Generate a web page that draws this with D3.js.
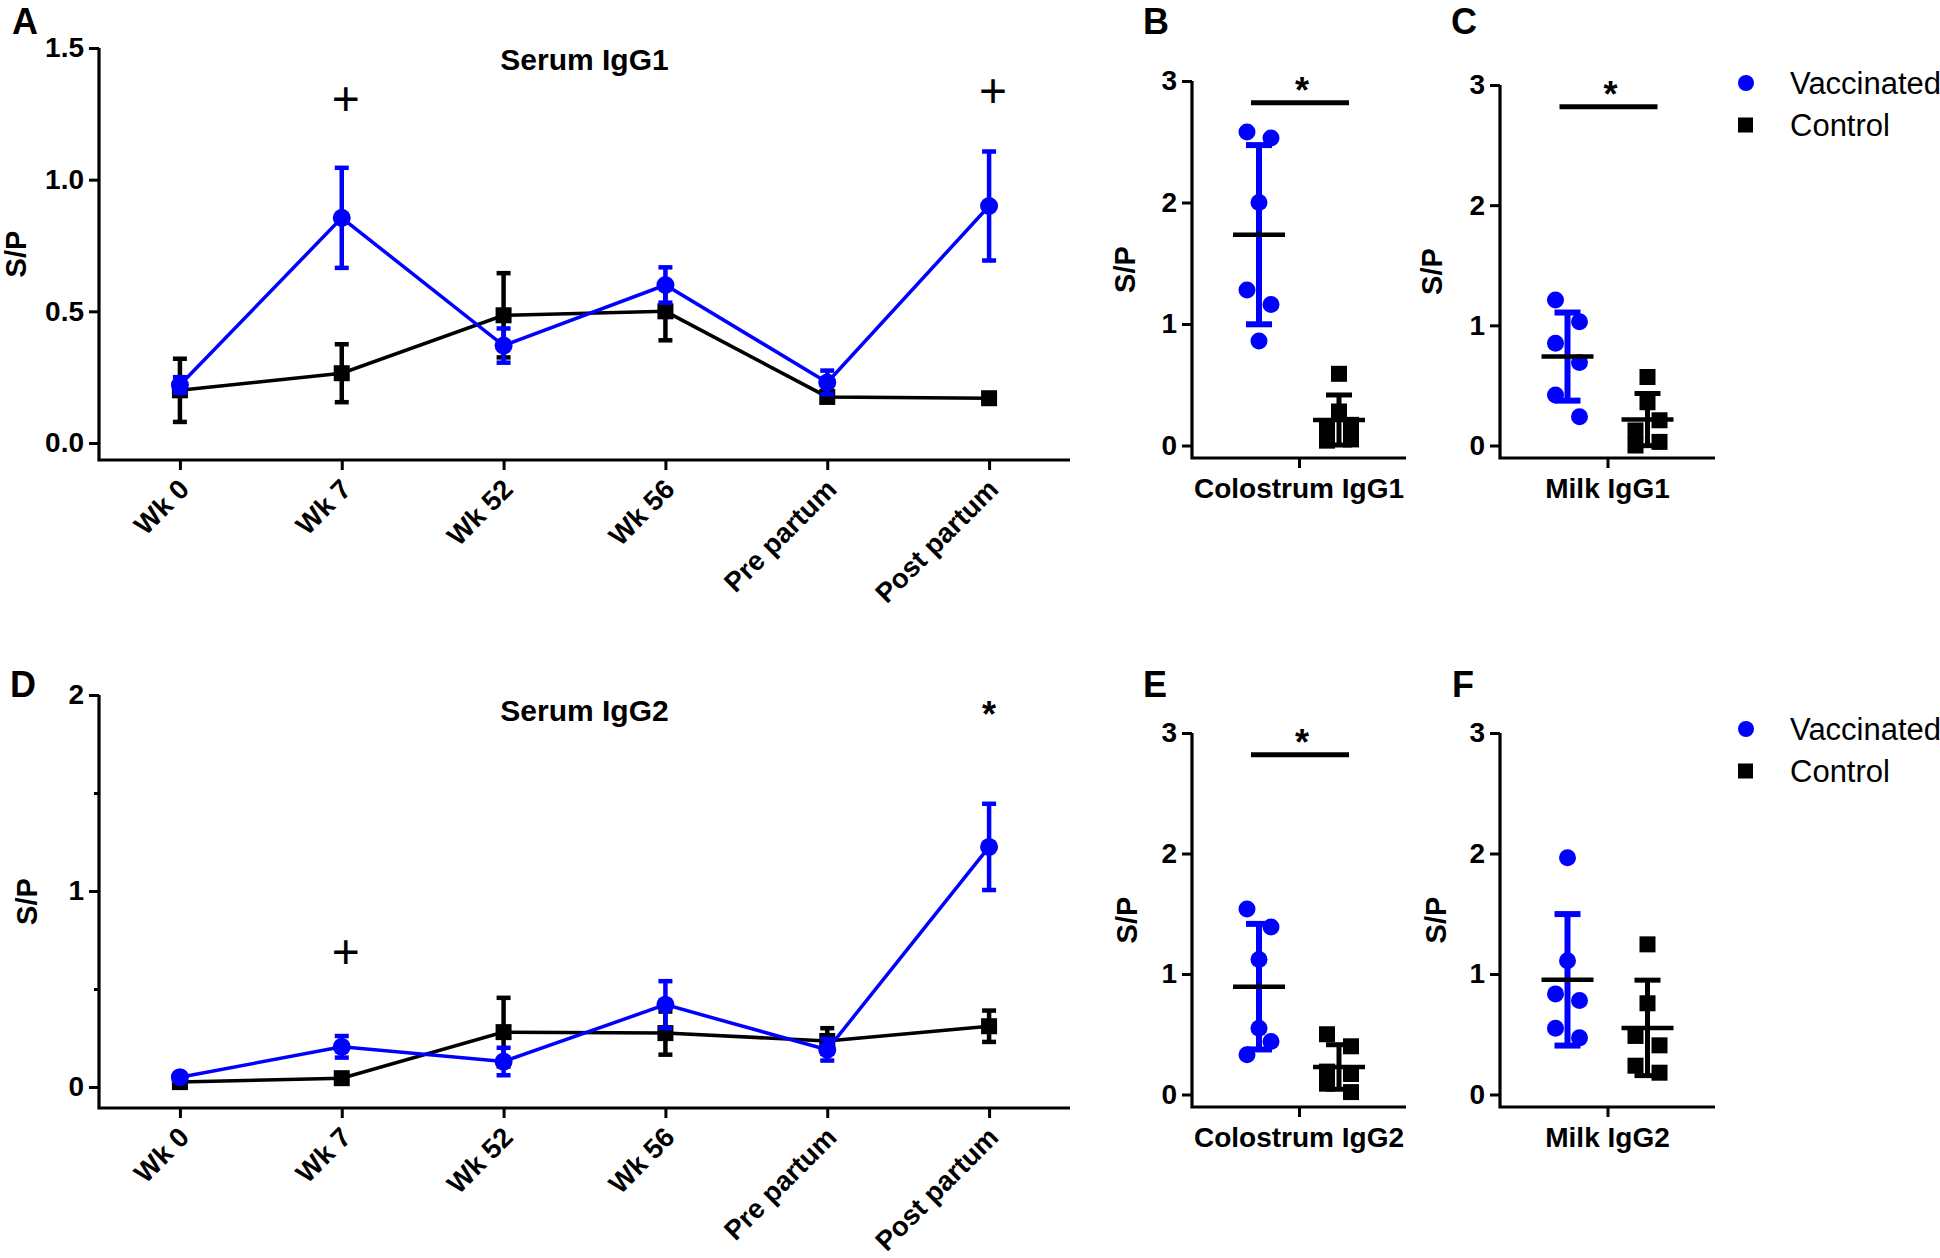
<!DOCTYPE html>
<html><head><meta charset="utf-8">
<script src="https://cdn.jsdelivr.net/npm/d3@7"></script>
<style>
body{margin:0;background:#fff;}
svg text{font-family:"Liberation Sans", Arial, sans-serif;}
</style></head><body>
<svg id="chart" width="1940" height="1258"></svg>
<script>
// ---------- DATA ----------
const timepoints = ["Wk 0","Wk 7","Wk 52","Wk 56","Pre partum","Post partum"];
const groups = ["Vaccinated","Control"];

// Serum IgG1 (mean ± SEM)
const serumIgG1Vacc    = [0.22, 0.855, 0.37, 0.60, 0.23, 0.90];
const serumIgG1VaccErr = [0.03, 0.19, 0.065, 0.067, 0.045, 0.207];
const serumIgG1Ctrl    = [0.20, 0.265, 0.485, 0.50, 0.175, 0.17];
const serumIgG1CtrlErr = [0.12, 0.11, 0.16, 0.11, 0.012, 0.01];
const serumIgG1Marks   = [{cat:"Wk 7", label:"+", value:1.31}, {cat:"Post partum", label:"+", value:1.34}];

// Serum IgG2 (mean ± SEM)
const serumIgG2Vacc    = [0.05, 0.205, 0.13, 0.42, 0.19, 1.225];
const serumIgG2VaccErr = [0.01, 0.055, 0.07, 0.12, 0.055, 0.22];
const serumIgG2Ctrl    = [0.025, 0.045, 0.28, 0.275, 0.235, 0.31];
const serumIgG2CtrlErr = [0.005, 0.01, 0.175, 0.11, 0.065, 0.08];
const serumIgG2Marks   = [{cat:"Wk 7", label:"+", value:0.69}, {cat:"Post partum", label:"*", value:1.94}];

// Individual animals (S/P)
const colostrumIgG1Vacc = [2.58, 2.53, 2.00, 1.28, 1.16, 0.86];
const colostrumIgG1Ctrl = [0.59, 0.28, 0.17, 0.13, 0.05, 0.04];
const milkIgG1Vacc      = [1.21, 1.03, 0.85, 0.69, 0.42, 0.24];
const milkIgG1Ctrl      = [0.57, 0.36, 0.21, 0.125, 0.03, 0.0];
const colostrumIgG2Vacc = [1.54, 1.39, 1.12, 0.55, 0.44, 0.33];
const colostrumIgG2Ctrl = [0.50, 0.40, 0.19, 0.17, 0.09, 0.02];
const milkIgG2Vacc      = [1.965, 1.11, 0.835, 0.78, 0.55, 0.47];
const milkIgG2Ctrl      = [1.246, 0.757, 0.486, 0.408, 0.239, 0.181];

// Tick values / labels
const yTicksIgG1 = [0, 0.5, 1.0, 1.5];
const yTicksIgG2 = [0, 1, 2];
const yMinorIgG2 = [0.5, 1.5];
const yTicksScatter = [0, 1, 2, 3];

// ---------- STYLE ----------
const BLUE = "#0000ff", BLACK = "#000000";
const FONT = '"Liberation Sans", Arial, sans-serif';
const svg = d3.select("#chart");

function text(g, x, y, str, o = {}) {
  return g.append("text").attr("x", x).attr("y", y).text(str)
    .attr("font-size", o.size || 28).attr("font-weight", o.weight || "bold")
    .attr("text-anchor", o.anchor || "start").attr("fill", BLACK);
}

function styleAxis(sel) {
  sel.select(".domain").remove();
  sel.selectAll(".tick line").attr("stroke", BLACK).attr("stroke-width", 3);
  sel.selectAll(".tick text").attr("font-size", 28).attr("font-weight", "bold")
    .attr("font-family", FONT).attr("fill", BLACK);
}

function drawAxesFrame(g, x0, yTop, axisY, xEnd) {
  g.append("path")
    .attr("d", `M${x0},${yTop}V${axisY}H${xEnd}`)
    .attr("fill", "none").attr("stroke", BLACK).attr("stroke-width", 3.2)
    .attr("stroke-linejoin", "miter");
}

function errBar(g, x, y0, y1, color, capW, sw) {
  g.append("line").attr("x1", x).attr("x2", x).attr("y1", y0).attr("y2", y1)
    .attr("stroke", color).attr("stroke-width", sw);
  [y0, y1].forEach(yy => g.append("line").attr("x1", x - capW / 2).attr("x2", x + capW / 2)
    .attr("y1", yy).attr("y2", yy).attr("stroke", color).attr("stroke-width", sw));
}

// ---------- LINE PANELS ----------
function linePanel(cfg) {
  const g = svg.append("g");
  const x = d3.scalePoint().domain(timepoints).range([cfg.x0, cfg.x1]).padding(0.5);
  const y = d3.scaleLinear().domain(cfg.yDomain).range([cfg.yZero, cfg.yTop]);

  drawAxesFrame(g, cfg.x0, cfg.yTop, cfg.axisY, cfg.x1);
  g.append("g").attr("transform", `translate(${cfg.x0},0)`)
    .call(d3.axisLeft(y).tickValues(cfg.ticks).tickFormat(cfg.fmt).tickSize(10).tickPadding(5))
    .call(styleAxis);
  if (cfg.minor) {
    g.append("g").attr("transform", `translate(${cfg.x0},0)`)
      .call(d3.axisLeft(y).tickValues(cfg.minor).tickFormat("").tickSize(5))
      .call(styleAxis);
  }
  g.append("g").attr("transform", `translate(0,${cfg.axisY})`)
    .call(d3.axisBottom(x).tickFormat("").tickSize(10))
    .call(styleAxis);

  // rotated category labels
  timepoints.forEach(t => {
    g.append("text").text(t)
      .attr("transform", `translate(${x(t) + 11},${cfg.axisY + 31}) rotate(-45)`)
      .attr("text-anchor", "end").attr("font-size", 27.5).attr("font-weight", "bold").attr("fill", BLACK);
  });

  // axis title & panel title
  g.append("text").text("S/P")
    .attr("transform", `translate(${cfg.ylabX},${(cfg.yTop + cfg.axisY) / 2}) rotate(-90)`)
    .attr("text-anchor", "middle").attr("font-size", 29).attr("font-weight", "bold");
  text(g, (cfg.x0 + cfg.x1) / 2, cfg.titleY, cfg.title, {size: 30, anchor: "middle"});
  text(g, cfg.letterX, cfg.letterY, cfg.letter, {size: 36});

  const series = [
    {vals: cfg.ctrl, err: cfg.ctrlErr, color: BLACK, shape: "square"},
    {vals: cfg.vacc, err: cfg.vaccErr, color: BLUE, shape: "circle"}
  ];
  series.forEach(s => {
    const sg = g.append("g");
    sg.append("path").datum(s.vals)
      .attr("d", d3.line().x((d, i) => x(timepoints[i])).y(d => y(d)))
      .attr("fill", "none").attr("stroke", s.color).attr("stroke-width", 3.5);
    s.vals.forEach((v, i) => errBar(sg, x(timepoints[i]), y(v + s.err[i]), y(v - s.err[i]), s.color, 14, 4.5));
    if (s.shape === "circle") {
      sg.selectAll("circle").data(s.vals).join("circle")
        .attr("cx", (d, i) => x(timepoints[i])).attr("cy", d => y(d)).attr("r", 9).attr("fill", s.color);
    } else {
      sg.selectAll("rect").data(s.vals).join("rect")
        .attr("x", (d, i) => x(timepoints[i]) - 8).attr("y", d => y(d) - 8)
        .attr("width", 16).attr("height", 16).attr("fill", s.color);
    }
  });

  // significance marks
  cfg.marks.forEach(m => {
    if (m.label === "+") {
      g.append("text").text("+").attr("x", x(m.cat) + 4).attr("y", y(m.value))
        .attr("dominant-baseline", "central").attr("text-anchor", "middle")
        .attr("font-size", 48).attr("font-weight", "normal");
    } else {
      g.append("text").text(m.label).attr("x", x(m.cat)).attr("y", y(m.value) + 20)
        .attr("text-anchor", "middle").attr("font-size", 36).attr("font-weight", "bold");
    }
  });
}

linePanel({letter: "A", letterX: 12, letterY: 34, title: "Serum IgG1", titleY: 70,
  x0: 99, x1: 1070, yTop: 48, yZero: 443, axisY: 460, yDomain: [0, 1.5],
  ticks: yTicksIgG1, fmt: d3.format(".1f"), ylabX: 26,
  vacc: serumIgG1Vacc, vaccErr: serumIgG1VaccErr, ctrl: serumIgG1Ctrl, ctrlErr: serumIgG1CtrlErr,
  marks: serumIgG1Marks});

linePanel({letter: "D", letterX: 10, letterY: 697, title: "Serum IgG2", titleY: 721,
  x0: 99, x1: 1070, yTop: 695, yZero: 1087, axisY: 1108, yDomain: [0, 2],
  ticks: yTicksIgG2, minor: yMinorIgG2, fmt: d3.format("d"), ylabX: 37,
  vacc: serumIgG2Vacc, vaccErr: serumIgG2VaccErr, ctrl: serumIgG2Ctrl, ctrlErr: serumIgG2CtrlErr,
  marks: serumIgG2Marks});

// ---------- SCATTER PANELS ----------
function swarmOffsets(values, y) {
  const n = values.length;
  const idx = d3.range(n).sort((a, b) => values[b] - values[a]);
  const clusters = [];
  let cur = [idx[0]];
  for (let k = 1; k < n; k++) {
    if (Math.abs(y(values[idx[k]]) - y(values[idx[k - 1]])) < 22) cur.push(idx[k]);
    else { clusters.push(cur); cur = [idx[k]]; }
  }
  clusters.push(cur);
  const off = new Array(n).fill(0);
  clusters.forEach(c => c.forEach((id, j) => {
    if (c.length % 2 === 1) off[id] = j === 0 ? 0 : (j % 2 === 1 ? 12 : -12);
    else off[id] = j % 2 === 0 ? -12 : 12;
  }));
  return off;
}

function scatterPanel(cfg) {
  const g = svg.append("g");
  const y = d3.scaleLinear().domain([0, 3]).range([cfg.yZero, cfg.yTop]);
  const xb = d3.scalePoint().domain([cfg.label]).range([cfg.x0, cfg.x1]).padding(0.5);
  const cx = xb(cfg.label);
  const xg = d3.scalePoint().domain(groups).range([cx - 40, cx + 40]);

  drawAxesFrame(g, cfg.x0, cfg.yTop, cfg.axisY, cfg.x1);
  g.append("g").attr("transform", `translate(${cfg.x0},0)`)
    .call(d3.axisLeft(y).tickValues(yTicksScatter).tickFormat(d3.format("d")).tickSize(10).tickPadding(5))
    .call(styleAxis);
  g.append("g").attr("transform", `translate(0,${cfg.axisY})`)
    .call(d3.axisBottom(xb).tickFormat("").tickSize(10))
    .call(styleAxis);
  text(g, cx, cfg.axisY + 40, cfg.label, {size: 28, anchor: "middle"});
  g.append("text").text("S/P")
    .attr("transform", `translate(${cfg.ylabX},${(cfg.yTop + cfg.axisY) / 2}) rotate(-90)`)
    .attr("text-anchor", "middle").attr("font-size", 29).attr("font-weight", "bold");
  text(g, cfg.letterX, cfg.letterY, cfg.letter, {size: 36});

  const sets = [
    {grp: "Vaccinated", vals: cfg.vacc, color: BLUE, shape: "circle"},
    {grp: "Control", vals: cfg.ctrl, color: BLACK, shape: "square"}
  ];
  sets.forEach(s => {
    const gx = xg(s.grp);
    const off = swarmOffsets(s.vals, y);
    const sg = g.append("g");
    if (s.shape === "circle") {
      sg.selectAll("circle").data(s.vals).join("circle")
        .attr("cx", (d, i) => gx + off[i]).attr("cy", d => y(d)).attr("r", 8.5).attr("fill", s.color);
    } else {
      sg.selectAll("rect").data(s.vals).join("rect")
        .attr("x", (d, i) => gx + off[i] - 8).attr("y", d => y(d) - 8)
        .attr("width", 16).attr("height", 16).attr("fill", s.color);
    }
    const m = d3.mean(s.vals), sd = d3.deviation(s.vals);
    errBar(sg, gx, y(m + sd), y(m - sd), s.color, 26, s.color === BLUE ? 6 : 5);
    sg.append("line").attr("x1", gx - 26).attr("x2", gx + 26).attr("y1", y(m)).attr("y2", y(m))
      .attr("stroke", BLACK).attr("stroke-width", 4.5);
  });

  if (cfg.sig) {
    const yb = y(2.82);
    g.append("line").attr("x1", cx - 48).attr("x2", cx + 50).attr("y1", yb).attr("y2", yb)
      .attr("stroke", BLACK).attr("stroke-width", 5);
    g.append("text").text("*").attr("x", cx + 3).attr("y", yb)
      .attr("text-anchor", "middle").attr("font-size", 36).attr("font-weight", "bold");
  }
}

scatterPanel({letter: "B", letterX: 1143, letterY: 34, label: "Colostrum IgG1", x0: 1192, x1: 1406,
  yTop: 81, yZero: 445.5, axisY: 458, ylabX: 1135, vacc: colostrumIgG1Vacc, ctrl: colostrumIgG1Ctrl, sig: true});
scatterPanel({letter: "C", letterX: 1451, letterY: 34, label: "Milk IgG1", x0: 1500, x1: 1715,
  yTop: 85, yZero: 445.5, axisY: 458, ylabX: 1442, vacc: milkIgG1Vacc, ctrl: milkIgG1Ctrl, sig: true});
scatterPanel({letter: "E", letterX: 1143, letterY: 697, label: "Colostrum IgG2", x0: 1192, x1: 1406,
  yTop: 733, yZero: 1094.5, axisY: 1107, ylabX: 1137, vacc: colostrumIgG2Vacc, ctrl: colostrumIgG2Ctrl, sig: true});
scatterPanel({letter: "F", letterX: 1452, letterY: 697, label: "Milk IgG2", x0: 1500, x1: 1715,
  yTop: 733, yZero: 1094.5, axisY: 1107, ylabX: 1446, vacc: milkIgG2Vacc, ctrl: milkIgG2Ctrl, sig: false});

// ---------- LEGENDS ----------
function legend(y0) {
  const g = svg.append("g");
  g.append("circle").attr("cx", 1746).attr("cy", y0).attr("r", 8).attr("fill", BLUE);
  g.append("rect").attr("x", 1738).attr("y", y0 + 42 - 7.5).attr("width", 15).attr("height", 15).attr("fill", BLACK);
  text(g, 1790, y0 + 10.5, groups[0], {size: 31, weight: "normal"});
  text(g, 1790, y0 + 53, groups[1], {size: 31, weight: "normal"});
}
legend(83);
legend(729);
</script>
</body></html>
